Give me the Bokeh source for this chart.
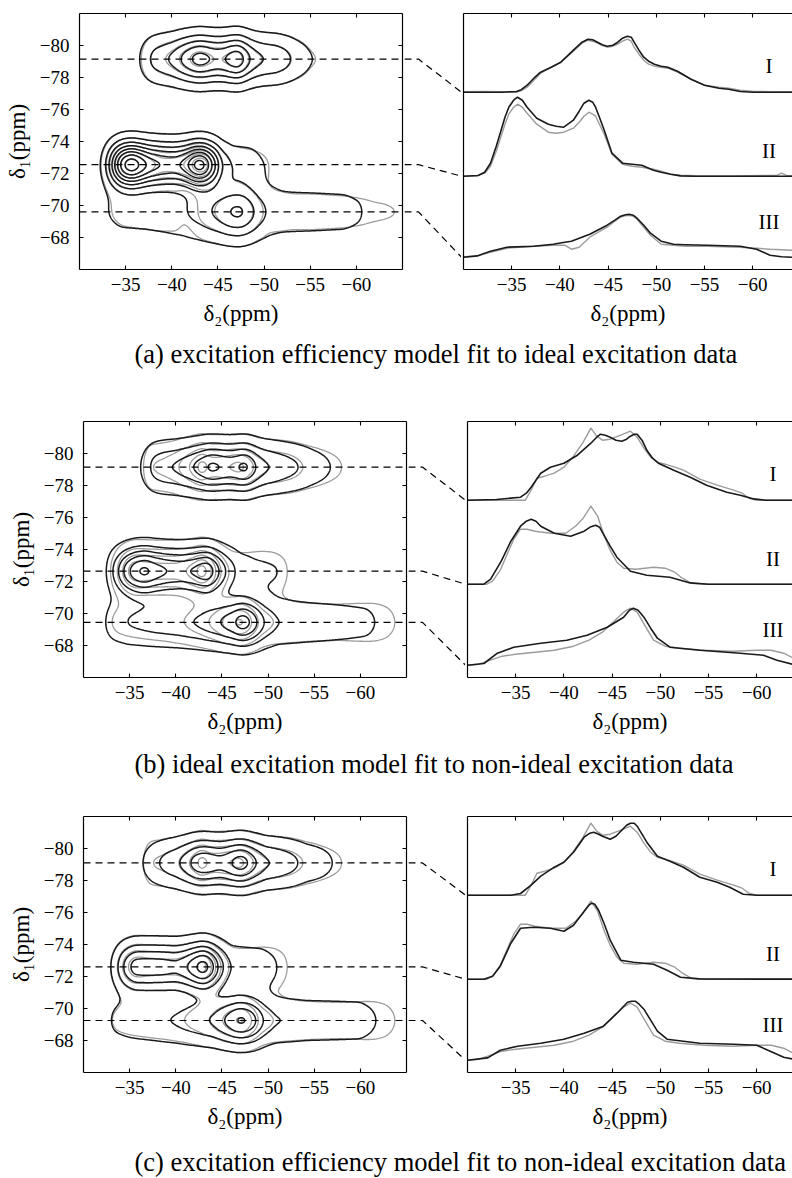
import numpy as np
from bokeh.plotting import figure
from bokeh.layouts import column, row
from bokeh.models import Range1d, LinearAxis, FixedTicker, CustomJSTickFormatter, Span
from bokeh.core.properties import value
from bokeh.embed import file_html
from bokeh.resources import INLINE

# ---------------------------------------------------------------- data
x_ticks = [-35, -40, -45, -50, -55, -60]
y_ticks = [-80, -78, -76, -74, -72, -70, -68]
site_labels = ["I", "II", "III"]
captions = [
    "(a) excitation efficiency model fit to ideal excitation data",
    "(b) ideal excitation model fit to non-ideal excitation data",
    "(c) excitation efficiency model fit to non-ideal excitation data",
]
axis_d1 = "δ₁(ppm)"
axis_d2 = "δ₂(ppm)"

# delta1 of the three slices (dashed lines) in each panel
slice_d1_a = [-79.15, -72.55, -69.6]
slice_d1_b = [-79.15, -72.65, -69.45]
slice_d1_c = [-79.1, -72.6, -69.25]
# delta1 line widths (ppm) of the three sites
width_d1_a = [1.0, 0.93, 1.15]
width_d1_b = [1.03, 1.0, 1.0]
width_d1_c = [1.0, 1.0, 1.0]
# 2D peak heights of the three sites, in units of the lowest contour level
amp_fit_a = [8.3, 13.1, 6.0]
amp_dat_a = [8.3, 13.1, 6.0]
amp_fit_b = [7.6, 9.2, 8.0]
amp_fit_c = [8.0, 9.5, 7.5]
amp_dat_n = [7.8, 9.5, 7.5]
contour_levels = [1.0, 2.6, 4.2, 5.8, 7.4, 9.0, 10.6, 12.2, 13.8]

# ---- slices, panel (a): fit (black) and ideal-excitation data (grey)
ppm_Ia = [-30, -32, -34, -35.5, -36, -36.6, -37.3, -38, -39.1, -40.1, -41.4, -42.3, -42.9, -43.4, -43.9,
          -44.4, -44.9, -45.5, -46, -46.5, -47, -47.4, -47.7, -48.2, -48.7, -49.2, -49.8, -50.5, -51.2,
          -52.2, -53.6, -55, -56.5, -57.5, -58.7, -60, -62, -65]
fit_Ia = [0, 0, 0, 0.7, 2.5, 7, 14, 20, 25, 30, 42, 50, 53, 52.5, 50, 47.5, 46, 47, 50, 54, 56, 55, 50, 42,
          35, 31, 28, 26, 25, 21, 13, 7, 4, 3, 0.7, 0, 0, 0]
dat_Ia = [0.5, 0.8, 0.5, 0, 1.5, 5, 12, 19, 25, 30, 41, 49, 52, 51, 49, 46.5, 45, 46, 48, 51, 53, 51, 45, 38,
          32, 28, 26, 25, 24, 20, 13, 7, 5, 4, 2, 1, 0.5, 0.5]

ppm_IIa = [-30, -31.5, -32.2, -32.8, -33.4, -33.9, -34.3, -34.7, -35.2, -35.6, -36.1, -36.6, -37.6, -38.8,
           -39.6, -40.4, -41.4, -42, -42.5, -43, -43.4, -43.7, -44.1, -44.6, -45.4, -46.5, -47.5, -48.5,
           -49.7, -50.5, -51.5, -52.5, -54, -58, -62.5, -63, -63.5, -65]
fit_IIa = [0, 0.7, 4, 13, 30, 46, 59, 69, 76, 79, 76, 69, 58, 52, 50, 49, 56, 65, 73, 76, 74, 69, 59, 46,
           23, 13, 12, 11, 6, 4, 2, 0.3, 0, 0, 0, 0, 0, 0]
dat_IIa = [0, 0.5, 3, 10, 25, 40, 52, 62, 69, 72, 69, 63, 52, 44, 43, 44, 48, 54, 60, 64, 62, 60, 52, 42,
           22, 12, 10, 9, 7, 5, 2, 1, 0.5, 0.3, 0.8, 3, 0.8, 0]

ppm_IIIa = [-30, -31.4, -32.8, -34.5, -37.3, -39.3, -40.5, -41.2, -42, -43.1, -44.9, -45.7, -46.3, -46.8,
            -47.2, -47.6, -48, -48.7, -49.4, -50.5, -51.8, -53, -55.3, -58.7, -60.4, -61.8, -63, -64.1, -65]
fit_IIIa = [0, 1.3, 6, 10, 11, 13, 15, 16, 19, 23, 32, 37, 41, 42.5, 43, 42, 39, 32, 24, 16, 13, 12.5, 12,
            11, 8, 2, 0.5, 0, 0]
dat_IIIa = [0.5, 1, 5, 9, 11, 12, 12, 8, 10, 20, 30, 36, 40, 41.5, 42, 41, 38, 30, 22, 13, 12, 11, 11, 10,
            9, 8, 7.5, 7, 6]

# ---- slices, panel (b): ideal excitation model fit
ppm_Ib = [-30, -33, -35.5, -36.1, -36.6, -37.1, -37.6, -38.6, -40, -41.4, -42.8, -43.4, -43.8, -44.3,
          -44.8, -45.4, -46, -46.5, -46.9, -47.3, -47.6, -48.1, -48.6, -49.2, -49.8, -51.4, -53.1, -54.8,
          -56.9, -58.3, -59.7, -61, -65]
fit_Ib = [0, 0.7, 3, 7, 13, 20, 27, 33, 37, 45, 57, 63, 66, 65, 63, 60, 59, 61, 64, 66, 66, 60, 50, 42, 37,
          30, 23, 15, 8, 5, 1.3, 0, 0]
ppm_IIb = [-30, -31.7, -32.4, -33.5, -34.5, -35.5, -36.1, -36.6, -37.1, -37.6, -39, -40.7, -42.1, -42.8,
           -43.3, -43.7, -44.1, -44.8, -45.5, -46.9, -48.6, -51, -53.1, -55, -65]
fit_IIb = [0, 0, 5, 23, 43, 58, 63, 65, 63, 58, 51, 48, 53, 57.5, 59, 57, 50, 38, 27, 13, 9, 7, 1.3, 0, 0]
ppm_IIIb = [-30, -31.7, -33.1, -34.8, -37.6, -40.3, -42.4, -44.5, -46.2, -46.8, -47.2, -47.7, -48.3, -49,
            -49.7, -51, -54.1, -58.3, -60.7, -62.1, -63.7, -65]
fit_IIIb = [0, 1.7, 12, 18, 22, 25, 30, 38, 48, 55, 57, 55, 48, 37, 27, 18, 15, 12, 10, 5, 1, 0.5]

# ---- slices, panel (c): excitation efficiency model fit
ppm_Ic = [-30, -34.5, -35.5, -36.6, -37.6, -39, -40, -41, -42.1, -42.7, -43.1, -43.6, -44, -44.8, -45.4,
          -45.9, -46.5, -46.9, -47.3, -47.6, -48.1, -48.6, -49.7, -51, -52.4, -54.1, -55.9, -57.2, -58.6,
          -60, -65]
fit_Ic = [0, 0, 1.7, 10, 19, 28, 33, 43, 58, 62, 63, 61, 59, 56, 59, 64, 70, 72, 72, 69, 61, 53, 39, 34,
          28, 18, 13, 8, 1, 0, 0]
ppm_IIc = [-30, -31.7, -32.6, -33.4, -34.5, -35.5, -36.9, -38.6, -40, -41, -42.1, -42.6, -42.9, -43.2,
           -43.6, -44.2, -44.8, -45.9, -47.2, -49.3, -50.7, -52.1, -54, -65]
fit_IIc = [0, 0, 3, 13, 36, 51, 52, 51, 48, 54, 68, 74, 76, 75, 69, 55, 39, 19, 17, 15, 9, 2, 0.3, 0]
ppm_IIIc = [-30, -32.1, -33.4, -35.2, -37.6, -40, -42.1, -44.1, -45.5, -46.6, -47, -47.4, -47.8, -48.3,
            -49, -49.7, -50.7, -54.1, -57.6, -60, -61.4, -62.8, -63.7, -65]
fit_IIIc = [0, 2.3, 10, 14, 17, 21, 27, 34, 47, 58, 59, 59, 56, 51, 40, 29, 21, 17, 16, 15, 9, 3, 1.3, 0.5]

# ---- slices of the non-ideal excitation data (grey, panels b and c)
ppm_In = [-30, -35, -36, -36.6, -37.2, -38, -39, -40, -41, -42, -42.8, -43.4, -44, -44.8, -45.9, -46.9,
          -47.6, -48.3, -49, -49.7, -50.5, -51.5, -52.4, -54.1, -55.9, -57.6, -58.5, -59.2, -60, -65]
dat_In = [0, 0, 0, 10, 22, 24, 27, 33, 44, 58, 72, 64, 60, 61, 65, 69, 63, 52, 43, 38, 36, 33, 30, 21, 15,
          10, 7, 2, 0, 0]
ppm_IIn = [-30, -32, -32.6, -33.4, -34.2, -34.8, -35.5, -36.2, -37, -38.6, -40.2, -41.2, -42, -42.8, -43.5,
           -44.2, -44.8, -45.5, -46.2, -47.5, -49.3, -50.5, -51.5, -52.3, -53.2, -55, -65]
dat_IIn = [0, 0, 3, 14, 32, 45, 55, 55, 53, 51, 51, 58, 66, 78, 68, 48, 34, 22, 16, 15, 17, 16, 12, 6, 1, 0, 0]
ppm_IIIn = [-30, -31.2, -32.4, -33.6, -35, -37, -39, -41, -42.6, -44, -45.2, -46.2, -46.9, -47.6, -48.5,
            -49.3, -50.5, -52, -54.5, -57.5, -60, -61.5, -62.8, -64, -65]
dat_IIIn = [0, 1, 5, 9, 11, 13, 15, 19, 25, 33, 44, 53, 57, 53, 38, 25, 19, 17, 15, 14, 15, 15, 12, 6, 4]

# ---------------------------------------------------------------- layout / style
FONT = "'Liberation Serif', 'Times New Roman', serif"
BLACK = "#1a1a1a"
GREY = "#9c9c9c"
FH = 256                 # frame height (px)
FW_LEFT = 323            # left frame width (px)
PX_PER_PPM_R = 9.64      # right panel horizontal scale
BOTTOM = 66
MID_W = 57
SLICE_OFFSETS = [177.3, 93.3, 12.3]   # baselines of the stacked slices (right panel units)
LABEL_DY = [26.7, 25.5, 35.0]
LABEL_X = -61.7
CAPTION_X = 134
Y_BOTTOM, Y_TOP = -66, -82

MINUS_FMT = "return (tick < 0 ? '\u2212' : '') + Math.abs(tick).toString();"


def tick_axis(ticks, labelled, label=None, tick_in=4):
    ax = LinearAxis(ticker=FixedTicker(ticks=ticks))
    ax.major_tick_in = tick_in
    ax.major_tick_out = 0
    ax.minor_tick_line_color = None
    ax.axis_line_width = 1.2
    ax.axis_line_color = "black"
    ax.major_tick_line_width = 1.1
    if labelled:
        ax.formatter = CustomJSTickFormatter(code=MINUS_FMT)
        ax.major_label_text_font = FONT
        ax.major_label_text_font_size = "19px"
        ax.major_label_text_font_style = "normal"
        ax.major_label_text_color = "black"
        ax.major_label_standoff = 8
    else:
        ax.formatter = CustomJSTickFormatter(code="return '';")
        ax.major_label_text_font_size = "0px"
        ax.major_label_standoff = 0
    if label:
        ax.axis_label = label
        ax.axis_label_text_font = FONT
        ax.axis_label_text_font_size = "23px"
        ax.axis_label_text_font_style = "normal"
        ax.axis_label_text_color = "black"
        ax.axis_label_standoff = 7
    return ax


def smooth_profile(xs, ppm, inten):
    order = np.argsort(ppm)
    f = np.interp(xs, np.asarray(ppm, float)[order], np.asarray(inten, float)[order])
    k = np.arange(-12, 13) * (xs[1] - xs[0])
    ker = np.exp(-k ** 2 / (2 * 0.3 ** 2))
    ker /= ker.sum()
    f = np.convolve(f, ker, mode="same")
    return f / f.max()


def surface(slices, centers, widths, amps):
    xs = np.linspace(-65, -30, 351)
    ys = np.linspace(-82, -66, 321)
    Z = np.zeros((ys.size, xs.size))
    for (ppm, inten), c, s, A in zip(slices, centers, widths, amps):
        f = smooth_profile(xs, ppm, inten)
        Z += A * f[None, :] * np.exp(-(ys[:, None] - c) ** 2 / (2 * s * s))
    return xs, ys, Z


def make_row(top, mbl, right_w, centers, widths, fit_slices, dat_slices, amp_fit, amp_dat):
    H = top + FH + BOTTOM
    # ---- left: contour panel
    left = figure(width=mbl + FW_LEFT + 2, height=H,
                  x_range=Range1d(-30, -65), y_range=Range1d(Y_BOTTOM, Y_TOP),
                  x_axis_type=None, y_axis_type=None, toolbar_location=None,
                  output_backend="svg", min_border_left=mbl, min_border_right=2,
                  min_border_top=top, min_border_bottom=BOTTOM)
    left.outline_line_color = None
    left.grid.visible = False
    yl = tick_axis(y_ticks, True, axis_d1)
    yl.major_label_standoff = 10
    yl.axis_label_standoff = 7
    left.add_layout(yl, "left")
    left.add_layout(tick_axis(x_ticks, True, axis_d2), "below")
    left.add_layout(tick_axis(x_ticks, False), "above")
    left.add_layout(tick_axis(y_ticks, False), "right")

    xs, ys, Zd = surface(dat_slices, centers, widths, amp_dat)
    left.contour(x=xs, y=ys, z=Zd, levels=contour_levels, line_color=GREY, line_width=1.3)
    xs, ys, Zf = surface(fit_slices, centers, widths, amp_fit)
    left.contour(x=xs, y=ys, z=Zf, levels=contour_levels, line_color=BLACK, line_width=1.5)
    for c in centers:
        left.add_layout(Span(location=c, dimension="width", line_color="black",
                             line_width=1.2, line_dash="7 5"))

    # ---- middle: dashed connectors
    mid = figure(width=MID_W, height=H,
                 x_range=Range1d(0, MID_W), y_range=Range1d(0, FH),
                 x_axis_type=None, y_axis_type=None, toolbar_location=None,
                 output_backend="svg", min_border_left=0, min_border_right=0,
                 min_border_top=top, min_border_bottom=BOTTOM)
    mid.outline_line_color = None
    mid.grid.visible = False
    for c, off in zip(centers, SLICE_OFFSETS):
        u = (c - Y_BOTTOM) / (Y_TOP - Y_BOTTOM) * FH
        mid.line(x=[0, 14, MID_W], y=[u, u, off], line_color="black",
                 line_width=1.2, line_dash="7 5")

    # ---- right: stacked slices
    x_end = -30 - (right_w - 2) / PX_PER_PPM_R
    right = figure(width=right_w, height=H,
                   x_range=Range1d(-30, x_end), y_range=Range1d(0, FH),
                   x_axis_type=None, y_axis_type=None, toolbar_location=None,
                   output_backend="svg", min_border_left=2, min_border_right=0,
                   min_border_top=top, min_border_bottom=BOTTOM)
    right.outline_line_color = None
    right.grid.visible = False
    right.add_layout(tick_axis(x_ticks, True, axis_d2), "below")
    right.add_layout(tick_axis(x_ticks, False), "above")
    right.add_layout(tick_axis([], False, tick_in=0), "left")
    for (ppm_d, dat), (ppm_f, fit), off in zip(dat_slices, fit_slices, SLICE_OFFSETS):
        right.line(x=ppm_d, y=[off + v for v in dat], line_color=GREY, line_width=1.4,
                   line_join="round")
        right.line(x=ppm_f, y=[off + v for v in fit], line_color=BLACK, line_width=1.6,
                   line_join="round")
    right.text(x=[LABEL_X] * 3, y=[o + d for o, d in zip(SLICE_OFFSETS, LABEL_DY)],
               text=site_labels, text_font=value(FONT), text_font_size="21px",
               text_align="center", text_baseline="middle", text_color="black")
    return row(left, mid, right)


def caption(text, h, y):
    p = figure(width=792, height=h, x_range=Range1d(0, 792), y_range=Range1d(0, h),
               x_axis_type=None, y_axis_type=None, toolbar_location=None,
               output_backend="svg", min_border=0)
    p.outline_line_color = None
    p.grid.visible = False
    p.text(x=[CAPTION_X], y=[y], text=[text], text_font=value(FONT), text_font_size="26.5px",
           text_align="left", text_baseline="middle", text_color="black")
    return p


slices_fit_a = [(ppm_Ia, fit_Ia), (ppm_IIa, fit_IIa), (ppm_IIIa, fit_IIIa)]
slices_dat_a = [(ppm_Ia, dat_Ia), (ppm_IIa, dat_IIa), (ppm_IIIa, dat_IIIa)]
slices_fit_b = [(ppm_Ib, fit_Ib), (ppm_IIb, fit_IIb), (ppm_IIIb, fit_IIIb)]
slices_fit_c = [(ppm_Ic, fit_Ic), (ppm_IIc, fit_IIc), (ppm_IIIc, fit_IIIc)]
slices_dat_n = [(ppm_In, dat_In), (ppm_IIn, dat_IIn), (ppm_IIIn, dat_IIIn)]

row_a = make_row(13, 79, 331, slice_d1_a, width_d1_a, slices_fit_a, slices_dat_a, amp_fit_a, amp_dat_a)
row_b = make_row(5, 83, 327, slice_d1_b, width_d1_b, slices_fit_b, slices_dat_n, amp_fit_b, amp_dat_n)
row_c = make_row(5, 83, 327, slice_d1_c, width_d1_c, slices_fit_c, slices_dat_n, amp_fit_c, amp_dat_n)

page = column(row_a, caption(captions[0], 81, 63),
              row_b, caption(captions[1], 68, 48),
              row_c, caption(captions[2], 40, 17))

with open("out.html", "w", encoding="utf-8") as fh:
    fh.write(file_html(page, INLINE))
